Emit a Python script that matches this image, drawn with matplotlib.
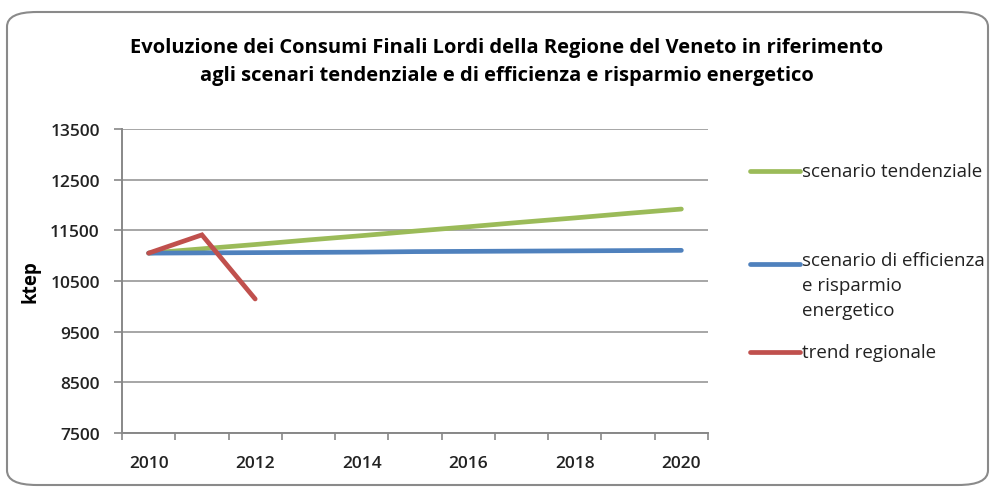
import matplotlib
matplotlib.use('Agg')
import matplotlib.pyplot as plt
from matplotlib.patches import FancyBboxPatch
from matplotlib.lines import Line2D

# dati (ktep)
anni = [2010, 2011, 2012, 2013, 2014, 2015, 2016, 2017, 2018, 2019, 2020]
tendenziale = [11050, 11135, 11220, 11310, 11395, 11485, 11570, 11660, 11745, 11835, 11920]
efficienza = [11050, 11055, 11060, 11065, 11070, 11080, 11085, 11090, 11095, 11100, 11105]
trend_regionale = [11050, 11410, 10145]

etichette_x = ['2010', '', '2012', '', '2014', '', '2016', '', '2018', '', '2020']
y_ticks = [7500, 8500, 9500, 10500, 11500, 12500, 13500]

titolo = ("Evoluzione dei Consumi Finali Lordi della Regione del Veneto in riferimento\n"
          "agli scenari tendenziale e di efficienza e risparmio energetico")
serie = [
    ("scenario tendenziale", '#9BBB59'),
    ("scenario di efficienza\ne risparmio\nenergetico", '#4F81BD'),
    ("trend regionale", '#C0504D'),
]

plt.rcParams['font.family'] = ['Open Sans', 'DejaVu Sans']

fig = plt.figure(figsize=(9.93, 4.89), dpi=100)
ax = fig.add_axes([122 / 993, 55 / 489, 586 / 993, 304 / 489])

x = list(range(len(anni)))
ax.plot(x, tendenziale, color=serie[0][1], lw=3.4, solid_capstyle='round', zorder=3)
ax.plot(x, efficienza, color=serie[1][1], lw=3.4, solid_capstyle='round', zorder=3)
ax.plot(x[:len(trend_regionale)], trend_regionale, color=serie[2][1], lw=3.4,
        solid_capstyle='round', solid_joinstyle='miter', zorder=4)

ax.set_xlim(-0.5, len(anni) - 0.5)
ax.set_ylim(7500, 13500)
ax.set_yticks(y_ticks)
ax.set_yticklabels([str(v) for v in y_ticks], fontsize=12.5, color='#222222')
ax.set_xticks(x)
ax.set_xticklabels(etichette_x, fontsize=12.5, color='#222222', fontweight='semibold')
ax.tick_params(axis='x', length=0, pad=16)
ax.set_xticks([i - 0.5 for i in range(len(anni) + 1)], minor=True)
ax.tick_params(axis='x', which='minor', length=5, color='#888888', width=1.2)
ax.tick_params(axis='y', length=6, color='#888888', width=1.2, pad=10)
for lab in ax.get_yticklabels():
    lab.set_fontweight('semibold')

ax.grid(axis='y', color='#a6a6a6', lw=1.4)
ax.set_axisbelow(True)
for s in ['top', 'right']:
    ax.spines[s].set_visible(False)
for s in ['left', 'bottom']:
    ax.spines[s].set_color('#888888')
    ax.spines[s].set_linewidth(1.4)

fig.text(30 / 993, 1 - 282 / 489, 'ktep', rotation=90, fontsize=13.5, fontweight='bold',
         ha='center', va='center')

fig.text(507 / 993, 1 - 62 / 489, titolo, fontsize=14.5, fontweight='bold',
         ha='center', va='center', linespacing=1.6)

# legenda disegnata a mano (spaziatura come nell'originale)
leg_y = [172, 265, 353]
for (nome, col), yy in zip(serie, leg_y):
    fy = 1 - yy / 489
    fig.add_artist(Line2D([750 / 993, 800 / 993], [fy, fy], color=col, lw=3.4,
                          solid_capstyle='round'))
    if '\n' in nome:
        fig.text(802 / 993, fy + 13 / 489, nome, fontsize=13.5, ha='left', va='top',
                 linespacing=1.5, color='#222222')
    else:
        fig.text(802 / 993, fy, nome, fontsize=13.5, ha='left', va='center', color='#222222')

# cornice arrotondata
fig.patches.append(FancyBboxPatch((7 / 993, 3 / 489), 981 / 993, 473 / 489,
                                  boxstyle='round,pad=0,rounding_size=0.03',
                                  transform=fig.transFigure, fill=False,
                                  ec='#8a8a8a', lw=1.5))

fig.savefig('out.png', dpi=100)
